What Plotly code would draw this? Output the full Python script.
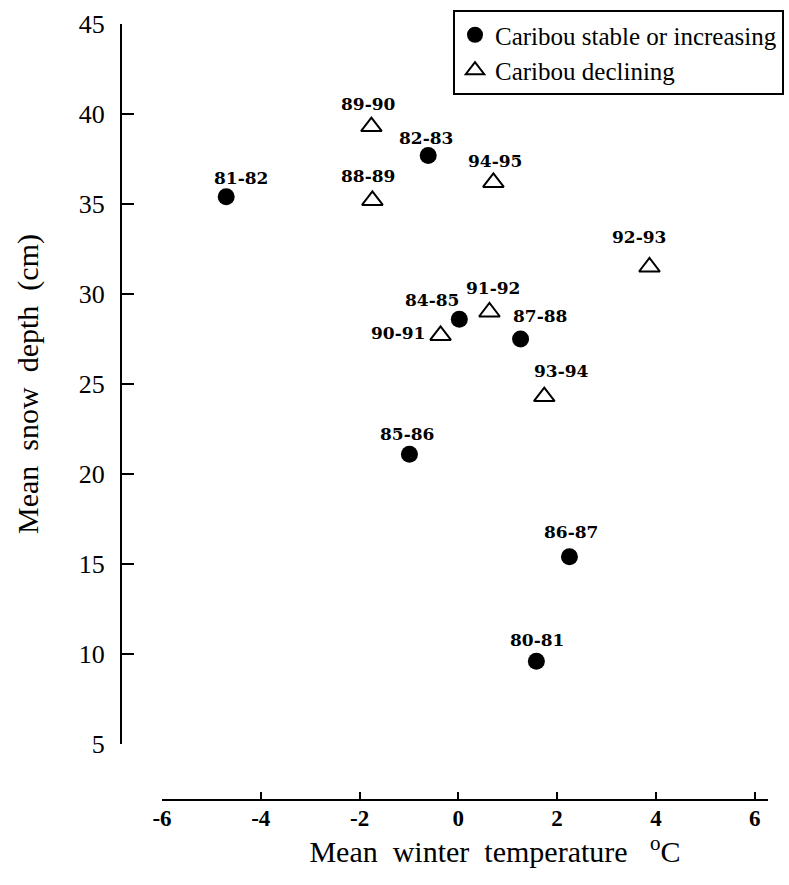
import plotly.graph_objects as go

# Caribou stable or increasing
labels_stable = ["80-81", "81-82", "82-83", "84-85", "85-86", "86-87", "87-88"]
temp_stable = [1.58, -4.70, -0.61, 0.02, -0.99, 2.25, 1.26]
snow_stable = [9.6, 35.4, 37.7, 28.6, 21.1, 15.4, 27.5]

# Caribou declining
labels_decl = ["88-89", "89-90", "90-91", "91-92", "92-93", "93-94", "94-95"]
temp_decl = [-1.74, -1.76, -0.36, 0.63, 3.87, 1.74, 0.71]
snow_decl = [35.2, 39.3, 27.7, 29.0, 31.5, 24.3, 36.2]

x_tickvals = [-6, -4, -2, 0, 2, 4, 6]
x_ticktext = ["-6", "-4", "-2", "0", "2", "4", "6"]
y_tickvals = [5, 10, 15, 20, 25, 30, 35, 40, 45]

# label offsets in px (styling only)
off_stable = [(1, 21), (15, 19), (-2, 17), (-27, 19), (-2, 20), (2, 25), (19, 23)]
off_decl = [(-4, 24), (-3, 23), (-43, 2), (4, 24), (-10, 30), (17, 26), (2, 21)]

W, H = 789, 885
serif = "Liberation Serif, Times New Roman, serif"

fig = go.Figure()
fig.add_trace(go.Scatter(
    x=temp_stable, y=snow_stable, mode="markers",
    name="Caribou stable or increasing",
    marker=dict(symbol="circle", size=17, color="black"),
))
fig.add_trace(go.Scatter(
    x=temp_decl, y=snow_decl, mode="markers",
    name="Caribou declining",
    marker=dict(symbol="triangle-up-open", size=18, color="black",
                line=dict(width=2, color="black")),
))

annotations = []
for xs, ys, ls, offs in [(temp_stable, snow_stable, labels_stable, off_stable),
                         (temp_decl, snow_decl, labels_decl, off_decl)]:
    for x, y, lab, (dx, dy) in zip(xs, ys, ls, offs):
        annotations.append(dict(
            x=x, y=y, xref="x", yref="y", text=lab, showarrow=False,
            xshift=dx, yshift=dy,
            font=dict(family="DejaVu Serif", size=17, color="black", weight="bold"),
        ))

x_title = "\u200b" + "\u00a0" * 8 + "Mean\u00a0 winter\u00a0 temperature\u00a0  <sup>o</sup>C"

fig.update_layout(
    template="none",
    width=W, height=H,
    margin=dict(l=0, r=0, t=0, b=0, autoexpand=False),
    paper_bgcolor="white", plot_bgcolor="white",
    showlegend=True,
    legend=dict(
        x=453 / W, y=1 - 10 / H, xanchor="left", yanchor="top",
        bordercolor="black", borderwidth=2, bgcolor="white",
        font=dict(family=serif, size=25, color="black"),
        tracegroupgap=0,
    ),
    annotations=annotations,
    xaxis=dict(
        domain=[162 / W, 768 / W], range=[-6, 6.27],
        anchor="free", position=(H - 800) / H, automargin=False,
        showgrid=False, zeroline=False,
        showline=True, linecolor="black", linewidth=2,
        ticks="inside", ticklen=7, tickwidth=2, tickcolor="black",
        tickvals=x_tickvals, ticktext=x_ticktext,
        tickfont=dict(family=serif, size=23, color="black", weight="bold"),
        ticklabelstandoff=-3,
        title=dict(text=x_title,
                   font=dict(family=serif, size=30, color="black"), standoff=8),
    ),
    yaxis=dict(
        domain=[1 - 744 / H, 1 - 24 / H], range=[5, 45],
        anchor="free", position=121 / W, automargin=False,
        showgrid=False, zeroline=False,
        showline=True, linecolor="black", linewidth=2,
        ticks="inside", ticklen=12, tickwidth=2, tickcolor="black",
        tickvals=y_tickvals,
        tickfont=dict(family=serif, size=26, color="black"),
        ticklabelstandoff=10,
        title=dict(text="Mean\u00a0 snow\u00a0 depth\u00a0 (cm)",
                   font=dict(family=serif, size=30, color="black"), standoff=30),
    ),
)

fig.write_html("out.html")
